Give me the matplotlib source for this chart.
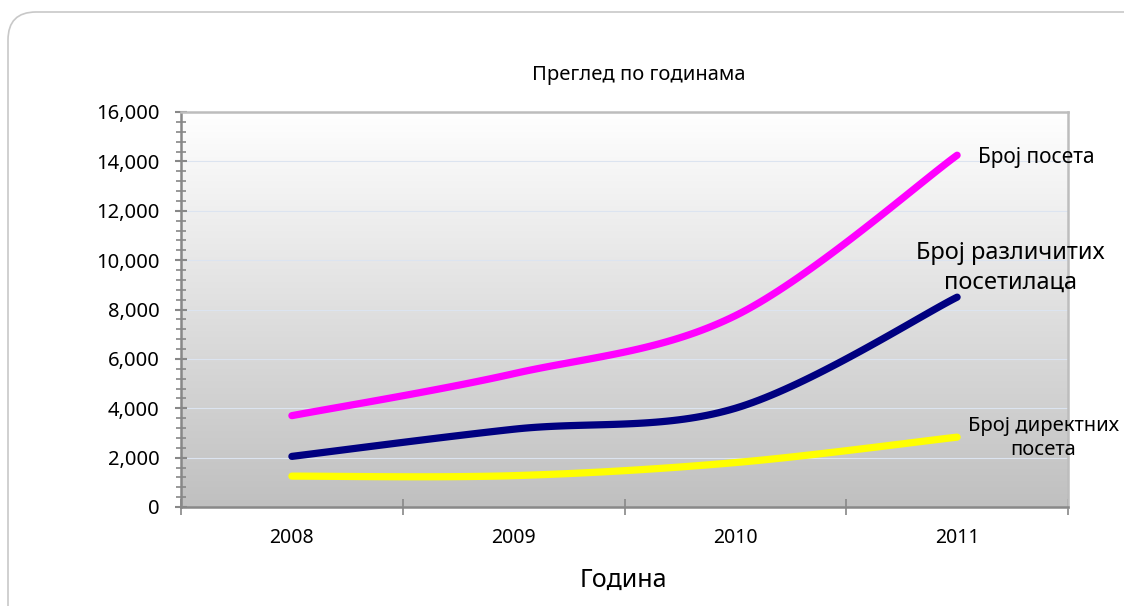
import numpy as np
import matplotlib
matplotlib.use('Agg')
import matplotlib.pyplot as plt
from matplotlib.patches import FancyBboxPatch
from matplotlib.ticker import MultipleLocator, FuncFormatter

plt.rcParams['font.family'] = ['Noto Sans', 'DejaVu Sans']

# podaci
godine = ['2008', '2009', '2010', '2011']
broj_poseta = [3700, 5400, 7750, 14250]
broj_posetilaca = [2050, 3150, 4000, 8500]
broj_direktnih = [1250, 1270, 1800, 2830]

boje = ['#ff00ff', '#000080', '#ffff00']


def smooth(ax, xs, ys, n=40):
    # excel-like bezier smoothing, racunato u pikselima
    pts = ax.transData.transform(np.column_stack([xs, ys]))
    m = len(pts)
    out = []
    for i in range(m - 1):
        p0 = pts[max(i - 1, 0)]
        p1 = pts[i]
        p2 = pts[i + 1]
        p3 = pts[min(i + 2, m - 1)]
        c1 = p1 + (p2 - p0) / 6.0
        c2 = p2 - (p3 - p1) / 6.0
        t = np.linspace(0, 1, n)[:, None]
        seg = ((1 - t) ** 3) * p1 + 3 * ((1 - t) ** 2) * t * c1 + 3 * (1 - t) * t ** 2 * c2 + t ** 3 * p2
        out.append(seg if i == 0 else seg[1:])
    out = np.vstack(out)
    d = ax.transData.inverted().transform(out)
    return d[:, 0], d[:, 1]


fig = plt.figure(figsize=(11.24, 6.06), dpi=100)
ax = fig.add_axes([181 / 1124, 1 - 507 / 606, 887 / 1124, 395 / 606])

# okvir oko grafikona
okvir = FancyBboxPatch((0.08, -0.3), 11.50, 6.06 - 0.12 + 0.3,
                       boxstyle='round,pad=0,rounding_size=0.28',
                       transform=fig.dpi_scale_trans, facecolor='none',
                       edgecolor='#c8c8c8', linewidth=1.2, zorder=0)
fig.patches.append(okvir)

ax.set_xlim(-0.5, 3.5)
ax.set_ylim(0, 16000)

# pozadina sa gradijentom
grad = np.linspace(1.0, 0.0, 256)[:, None]
ax.imshow(grad, extent=[-0.5, 3.5, 0, 16000], aspect='auto',
          cmap=matplotlib.colors.LinearSegmentedColormap.from_list('g', ['#c0c0c0', '#ffffff']),
          vmin=0, vmax=1, zorder=0)

ax.yaxis.grid(True, color='#dce4f0', linewidth=0.8, zorder=1)
ax.set_axisbelow(True)

x = np.arange(len(godine))
for ys, c in zip([broj_poseta, broj_posetilaca, broj_direktnih], boje):
    sx, sy = smooth(ax, x, ys)
    ax.plot(sx, sy, color=c, linewidth=5.2, solid_capstyle='round', zorder=3)

ax.yaxis.set_major_locator(MultipleLocator(2000))
ax.yaxis.set_minor_locator(MultipleLocator(400))
ax.yaxis.set_major_formatter(FuncFormatter(lambda v, p: '{:,.0f}'.format(v)))
ax.tick_params(axis='y', which='major', direction='inout', length=9, width=1.5,
               color='#888888', labelsize=14.5, pad=11)
ax.tick_params(axis='y', which='minor', direction='inout', length=6.5, width=1.2,
               color='#888888')

ax.set_xticks(x)
ax.set_xticklabels(godine)
ax.set_xticks(np.arange(-0.5, 3.6, 1.0), minor=True)
ax.tick_params(axis='x', which='major', length=0, labelsize=14, pad=15)
ax.tick_params(axis='x', which='minor', direction='inout', length=11, width=1.2,
               color='#888888')

for s in ['left', 'bottom']:
    ax.spines[s].set_color('#888888')
    ax.spines[s].set_linewidth(1.8)
for s in ['top', 'right']:
    ax.spines[s].set_color('#bdbdbd')
    ax.spines[s].set_linewidth(1.8)

fig.text(639 / 1124, 1 - 75 / 606, 'Преглед по годинама', ha='center', va='center', fontsize=14.5)
fig.text(623 / 1124, 1 - 580 / 606, 'Година', ha='center', va='center', fontsize=18)

ax.text(0.899, 0.886, 'Број посета', transform=ax.transAxes, ha='left', va='center',
        fontsize=15, clip_on=False)
ax.text(0.935, 0.606, 'Број различитих\nпосетилаца', transform=ax.transAxes, ha='center',
        va='center', fontsize=17, linespacing=1.3, clip_on=False)
ax.text(0.972, 0.175, 'Број директних\nпосета', transform=ax.transAxes, ha='center',
        va='center', fontsize=14.5, linespacing=1.3, clip_on=False)

fig.savefig('out.png', dpi=100)
